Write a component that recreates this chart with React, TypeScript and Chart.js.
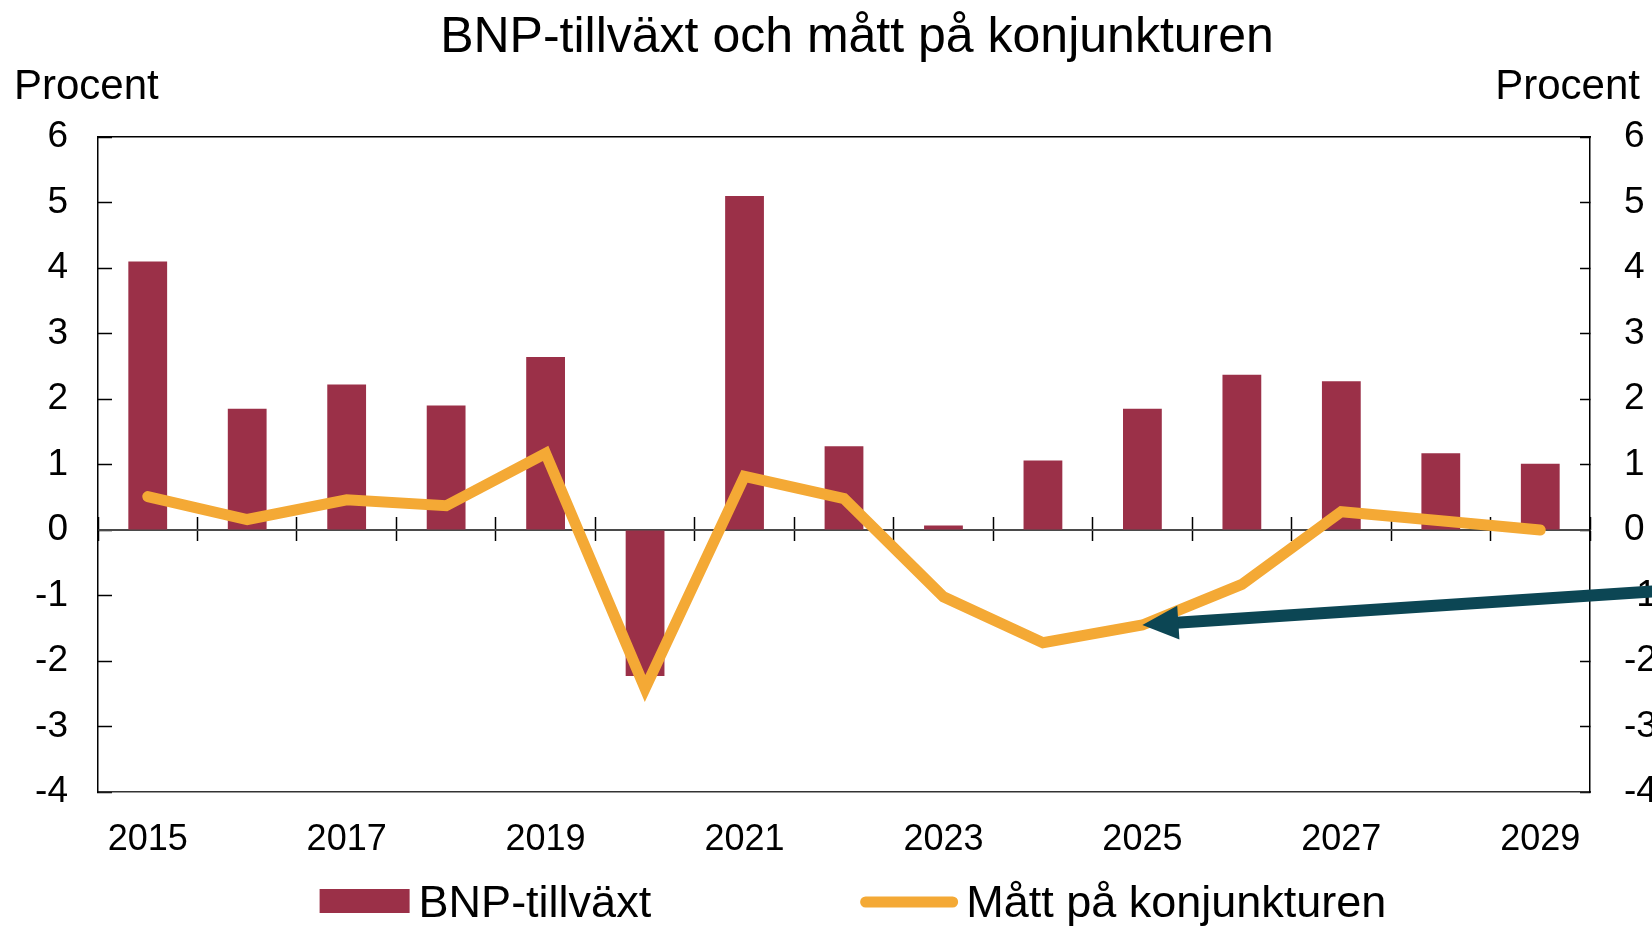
import React, { useEffect, useRef } from 'react';
import { Chart, registerables } from 'chart.js';

Chart.register(...registerables);

// ---- Data ----
const years = ['2015', '2016', '2017', '2018', '2019', '2020', '2021', '2022', '2023', '2024', '2025', '2026', '2027', '2028', '2029'];
const bnpGrowth = [4.1, 1.85, 2.22, 1.9, 2.64, -2.23, 5.1, 1.28, 0.07, 1.06, 1.85, 2.37, 2.27, 1.17, 1.01];
const businessCycle = [0.51, 0.16, 0.46, 0.37, 1.17, -2.42, 0.82, 0.48, -1.02, -1.72, -1.45, -0.83, 0.28, 0.14, 0.0];
const yMin = -4;
const yMax = 6;
const yStep = 1;

const TITLE = 'BNP-tillväxt och mått på konjunkturen';
const UNIT = 'Procent';
const BAR_LABEL = 'BNP-tillväxt';
const LINE_LABEL = 'Mått på konjunkturen';
const ARROW_TARGET = '2025';
const ARROW_TAIL_VALUE = -0.93;

const BAR_COLOR = '#9B3048';
const LINE_COLOR = '#F4A935';
const ARROW_COLOR = '#0C4654';
const FONT = '"Liberation Sans", Arial, Helvetica, sans-serif';

export default function App() {
  const ref = useRef<HTMLCanvasElement>(null);

  useEffect(() => {
    const canvas = ref.current;
    if (!canvas) return;

    const overlay = {
      id: 'overlay',
      afterDraw(chart: any) {
        const { ctx, chartArea, scales } = chart;
        ctx.save();
        // Title
        ctx.fillStyle = '#000';
        ctx.textBaseline = 'alphabetic';
        ctx.font = `50px ${FONT}`;
        ctx.textAlign = 'center';
        ctx.fillText(TITLE, (chartArea.left + chartArea.right) / 2 + 13, 52);
        // Units
        ctx.font = `42px ${FONT}`;
        ctx.textAlign = 'left';
        ctx.fillText(UNIT, chartArea.left - 84, 99);
        ctx.textAlign = 'right';
        ctx.fillText(UNIT, chartArea.right + 50, 99);

        // Legend
        ctx.font = `45px ${FONT}`;
        ctx.textAlign = 'left';
        const w1 = ctx.measureText(BAR_LABEL).width;
        const w2 = ctx.measureText(LINE_LABEL).width;
        const boxW = 90, boxH = 24, gap1 = 9, itemGap = 209, lineW = 98, gap2 = 8;
        const total = boxW + gap1 + w1 + itemGap + lineW + gap2 + w2;
        let x = (chartArea.left + chartArea.right) / 2 + 9 - total / 2;
        const mid = 901;
        const base = 917;
        ctx.fillStyle = BAR_COLOR;
        ctx.fillRect(x, mid - boxH / 2, boxW, boxH);
        x += boxW + gap1;
        ctx.fillStyle = '#000';
        ctx.fillText(BAR_LABEL, x, base);
        x += w1 + itemGap;
        ctx.strokeStyle = LINE_COLOR;
        ctx.lineWidth = 11;
        ctx.lineCap = 'round';
        ctx.beginPath();
        ctx.moveTo(x + 5.5, mid + 1);
        ctx.lineTo(x + lineW - 5.5, mid + 1);
        ctx.stroke();
        x += lineW + gap2;
        ctx.fillStyle = '#000';
        ctx.fillText(LINE_LABEL, x, base);

        // Arrow annotation
        const xs = scales.x;
        const ys = scales.y;
        const idx = years.indexOf(ARROW_TARGET);
        const tipX = xs.getPixelForValue(idx);
        const tipY = ys.getPixelForValue(businessCycle[idx]);
        const tailX = chart.width + 20;
        const tailY = ys.getPixelForValue(ARROW_TAIL_VALUE) - 0.04 * 20;
        const ang = Math.atan2(tailY - tipY, tailX - tipX);
        const c = Math.cos(ang), s = Math.sin(ang);
        const headLen = 36, headHalf = 17;
        const bx = tipX + c * headLen, by = tipY + s * headLen;
        ctx.strokeStyle = ARROW_COLOR;
        ctx.fillStyle = ARROW_COLOR;
        ctx.lineWidth = 12;
        ctx.lineCap = 'butt';
        ctx.beginPath();
        ctx.moveTo(tailX, tailY);
        ctx.lineTo(bx - c * 2, by - s * 2);
        ctx.stroke();
        ctx.beginPath();
        ctx.moveTo(tipX, tipY);
        ctx.lineTo(bx - s * headHalf, by + c * headHalf);
        ctx.lineTo(bx + s * headHalf, by - c * headHalf);
        ctx.closePath();
        ctx.fill();
        ctx.restore();
      },
    };

    const tickFont = { family: FONT, size: 37 };

    const chart = new Chart(canvas, {
      data: {
        labels: years,
        datasets: [
          {
            type: 'line',
            label: LINE_LABEL,
            data: businessCycle,
            borderColor: LINE_COLOR,
            backgroundColor: LINE_COLOR,
            borderWidth: 11,
            pointRadius: 0,
            borderCapStyle: 'round',
            borderJoinStyle: 'miter',
            tension: 0,
            order: 1,
            xAxisID: 'x',
            yAxisID: 'y',
          } as any,
          {
            type: 'bar',
            label: BAR_LABEL,
            data: bnpGrowth,
            backgroundColor: BAR_COLOR,
            barPercentage: 0.39,
            categoryPercentage: 1.0,
            order: 2,
            xAxisID: 'x',
            yAxisID: 'y',
          } as any,
        ],
      },
      options: {
        animation: false,
        responsive: false,
        maintainAspectRatio: false,
        layout: { padding: { top: 137, bottom: 0, left: 0, right: 0 } },
        plugins: {
          legend: { display: false },
          tooltip: { enabled: false },
          title: { display: false },
        },
        scales: {
          x: {
            type: 'category',
            position: 'bottom',
            offset: true,
            grid: { display: false, drawTicks: false, offset: true },
            border: { display: true, color: '#333', width: 1.5 },
            ticks: {
              autoSkip: false,
              maxRotation: 0,
              minRotation: 0,
              padding: 26,
              color: '#000',
              font: { family: FONT, size: 36 },
              callback: (_v: any, i: number) => (i % 2 === 0 ? years[i] : ''),
            },
            afterFit: (s: any) => { s.height = 134; },
          },
          xTop: {
            type: 'category',
            position: 'top',
            offset: true,
            grid: { display: false, drawTicks: false },
            border: { display: true, color: '#000', width: 1.5 },
            ticks: { display: false },
            afterFit: (s: any) => { s.height = 0; },
          },
          xZeroDown: {
            type: 'category',
            position: { y: 0 },
            offset: true,
            grid: { display: true, offset: true, drawOnChartArea: false, drawTicks: true, tickLength: 10, tickColor: '#000', tickWidth: 1.5 },
            border: { display: true, color: '#4a4a4a', width: 2 },
            ticks: { display: false },
          },
          xZeroUp: {
            type: 'category',
            position: { y: 0 },
            offset: true,
            grid: { display: true, offset: true, drawOnChartArea: false, drawTicks: true, tickLength: -13, tickColor: '#000', tickWidth: 1.5 },
            border: { display: false },
            ticks: { display: false },
          },
          y: {
            type: 'linear',
            position: 'left',
            min: yMin,
            max: yMax,
            ticks: { stepSize: yStep, padding: 44, color: '#000', font: tickFont },
            grid: { drawOnChartArea: false, drawTicks: true, tickLength: -14, tickColor: '#000', tickWidth: 1.5 },
            border: { display: true, color: '#000', width: 1.5 },
            afterFit: (s: any) => { s.width = 98; },
          },
          y2: {
            type: 'linear',
            position: 'right',
            min: yMin,
            max: yMax,
            ticks: { stepSize: yStep, padding: 44, color: '#000', font: tickFont },
            grid: { drawOnChartArea: false, drawTicks: true, tickLength: -10, tickColor: '#000', tickWidth: 1.5 },
            border: { display: true, color: '#000', width: 1.5 },
            afterFit: (s: any) => { s.width = 62; },
          },
        },
      } as any,
      plugins: [overlay],
    });

    return () => chart.destroy();
  }, []);

  return (
    <div style={{ position: 'fixed', left: 0, top: 0, width: 1652, height: 926, overflow: 'hidden', background: '#fff' }}>
      <canvas ref={ref} width={1652} height={926} style={{ display: 'block', width: 1652, height: 926 }} />
    </div>
  );
}
